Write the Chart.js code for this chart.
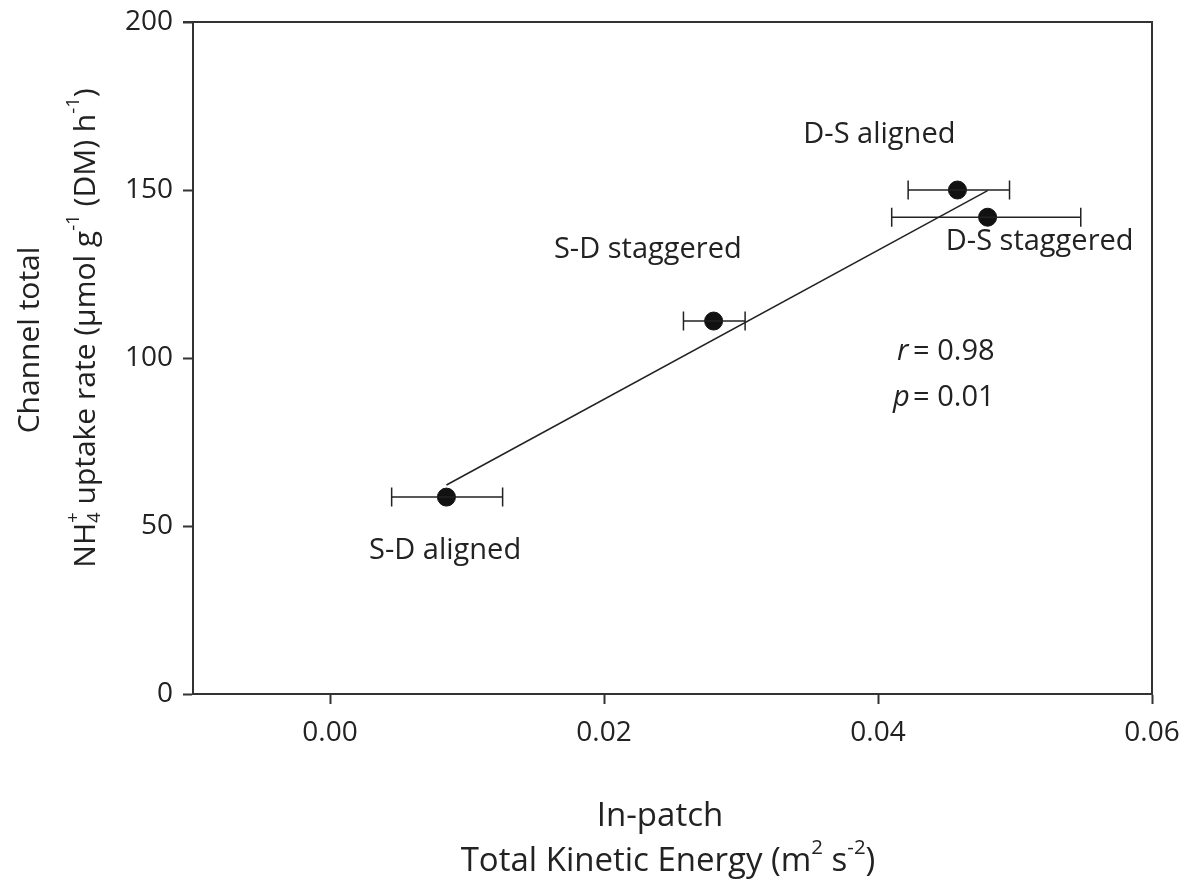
<!DOCTYPE html>
<html>
<head>
<meta charset="utf-8">
<script src="https://cdn.jsdelivr.net/npm/chart.js@4.4.1/dist/chart.umd.min.js"></script>
<style>
  html, body { margin: 0; padding: 0; background: #fff; }
  #wrap { width: 1185px; height: 886px; }
</style>
</head>
<body>
<div id="wrap"><canvas id="chart"></canvas></div>
<script>
// data
const treatments = ["S-D aligned", "S-D staggered", "D-S aligned", "D-S staggered"];
const energy = [0.0085, 0.0280, 0.0458, 0.0480];
const energy_low = [0.0045, 0.0258, 0.0422, 0.0410];
const energy_high = [0.0126, 0.0303, 0.0496, 0.0548];
const uptake = [58.6, 111.0, 150.0, 141.9];
const fit_x = [0.0085, 0.0480];
const fit_y = [62.2, 149.8];
const x_ticks = [0.00, 0.02, 0.04, 0.06];
const y_ticks = [0, 50, 100, 150, 200];

// where the point labels sit, in data units
const label_x = [0.0084, 0.0232, 0.0401, 0.0518];
const label_y = [42.6, 132.1, 166.4, 134.5];

const font_name = "'Open Sans', 'Noto Sans', sans-serif";
const ink = "#222";

function rich_width(ctx, parts, size) {
  let w = 0;
  parts.forEach(function(p) {
    if (p.sup !== undefined || p.sub !== undefined) {
      ctx.font = (size * 0.62) + "px " + font_name;
      w += Math.max(ctx.measureText(p.sup || "").width, ctx.measureText(p.sub || "").width);
    } else {
      ctx.font = (p.italic ? "italic " : "") + size + "px " + font_name;
      w += ctx.measureText(p.t).width;
    }
  });
  return w;
}

function draw_rich(ctx, parts, size, cx, cy, angle) {
  ctx.save();
  ctx.translate(cx, cy);
  ctx.rotate(angle);
  ctx.fillStyle = ink;
  ctx.textBaseline = "middle";
  ctx.textAlign = "left";
  let x = -rich_width(ctx, parts, size) / 2;
  parts.forEach(function(p) {
    if (p.sup !== undefined || p.sub !== undefined) {
      ctx.font = (size * 0.62) + "px " + font_name;
      let w = 0;
      if (p.sup) {
        ctx.fillText(p.sup, x, -size * 0.42);
        w = ctx.measureText(p.sup).width;
      }
      if (p.sub) {
        ctx.fillText(p.sub, x, size * 0.3);
        w = Math.max(w, ctx.measureText(p.sub).width);
      }
      x += w;
    } else {
      ctx.font = (p.italic ? "italic " : "") + size + "px " + font_name;
      ctx.fillText(p.t, x, 0);
      x += ctx.measureText(p.t).width;
    }
  });
  ctx.restore();
}

const extras = {
  id: "extras",
  afterDatasetsDraw(chart) {
    const ctx = chart.ctx;
    const xs = chart.scales.x;
    const ys = chart.scales.y;
    const area = chart.chartArea;

    // horizontal error bars
    ctx.save();
    ctx.strokeStyle = ink;
    ctx.lineWidth = 1.5;
    for (let i = 0; i < energy.length; i++) {
      const py = ys.getPixelForValue(uptake[i]);
      const x0 = xs.getPixelForValue(energy_low[i]);
      const x1 = xs.getPixelForValue(energy_high[i]);
      ctx.beginPath();
      ctx.moveTo(x0, py); ctx.lineTo(x1, py);
      ctx.moveTo(x0, py - 9.5); ctx.lineTo(x0, py + 9.5);
      ctx.moveTo(x1, py - 9.5); ctx.lineTo(x1, py + 9.5);
      ctx.stroke();
    }
    ctx.restore();

    // box on top and right
    ctx.save();
    ctx.strokeStyle = "#333";
    ctx.lineWidth = 2;
    ctx.beginPath();
    ctx.moveTo(area.left - 10, area.top);
    ctx.lineTo(area.right, area.top);
    ctx.lineTo(area.right, area.bottom);
    ctx.stroke();
    ctx.restore();

    // point labels
    ctx.save();
    ctx.fillStyle = ink;
    ctx.font = "29px " + font_name;
    ctx.textAlign = "center";
    ctx.textBaseline = "middle";
    for (let i = 0; i < treatments.length; i++) {
      ctx.fillText(treatments[i], xs.getPixelForValue(label_x[i]), ys.getPixelForValue(label_y[i]));
    }
    ctx.restore();

    // statistics
    const sx = xs.getPixelForValue(0.0411);
    ctx.save();
    ctx.fillStyle = ink;
    ctx.textAlign = "left";
    ctx.textBaseline = "middle";
    ctx.font = "italic 29px " + font_name;
    ctx.fillText("r", sx + 4, ys.getPixelForValue(101.8));
    ctx.fillText("p", sx, ys.getPixelForValue(88.1));
    ctx.font = "29px " + font_name;
    ctx.fillText("= 0.98", sx + 20, ys.getPixelForValue(101.8));
    ctx.fillText("= 0.01", sx + 20, ys.getPixelForValue(88.1));
    ctx.restore();

    // axis titles
    draw_rich(ctx, [{t: "In-patch"}], 33, 660, 817, 0);
    draw_rich(ctx, [{t: "Total Kinetic Energy (m"}, {sup: "2"}, {t: " s"}, {sup: "-2"}, {t: ")"}], 33, 668, 862, 0);
    draw_rich(ctx, [{t: "Channel total"}], 30, 30, 340, -Math.PI / 2);
    draw_rich(ctx, [{t: "NH"}, {sup: "+", sub: "4"}, {t: " uptake rate (\u00b5mol g"}, {sup: "-1"},
      {t: " (DM) h"}, {sup: "-1"}, {t: ")"}], 30, 86, 328, -Math.PI / 2);
  }
};

const canvas = document.getElementById("chart");
const chart = new Chart(canvas, {
  type: "scatter",
  data: {
    datasets: [
      {
        label: "fit",
        data: fit_x.map(function(x, i) { return {x: x, y: fit_y[i]}; }),
        showLine: true,
        borderColor: ink,
        borderWidth: 1.5,
        pointRadius: 0,
        order: 2,
      },
      {
        label: "treatments",
        data: energy.map(function(x, i) { return {x: x, y: uptake[i]}; }),
        backgroundColor: "#111",
        borderColor: "#111",
        pointRadius: 9,
        order: 1,
      },
    ]
  },
  options: {
    responsive: true,
    maintainAspectRatio: false,
    animation: false,
    layout: { padding: { left: 0, top: 22, right: 33, bottom: 0 } },
    plugins: { legend: { display: false }, tooltip: { enabled: false } },
    scales: {
      x: {
        type: "linear",
        min: -0.01,
        max: 0.06,
        afterBuildTicks: function(scale) {
          scale.ticks = x_ticks.map(function(v) { return {value: v}; });
        },
        afterFit: function(scale) {
          scale.height = 192;
          scale.paddingLeft = 0;
          scale.paddingRight = 0;
        },
        grid: { drawOnChartArea: false, tickLength: 10, tickColor: "#333", tickWidth: 2 },
        border: { color: "#333", width: 2 },
        ticks: {
          color: ink,
          padding: 12,
          font: { family: font_name, size: 28 },
          callback: function(v) { return v.toFixed(2); },
        },
      },
      y: {
        type: "linear",
        min: 0,
        max: 200,
        afterBuildTicks: function(scale) {
          scale.ticks = y_ticks.map(function(v) { return {value: v}; });
        },
        afterFit: function(scale) {
          scale.width = 193;
          scale.paddingTop = 0;
          scale.paddingBottom = 0;
        },
        grid: { drawOnChartArea: false, tickLength: 10, tickColor: "#333", tickWidth: 2 },
        border: { color: "#333", width: 2 },
        ticks: {
          color: ink,
          padding: 10,
          font: { family: font_name, size: 28 },
        },
      },
    },
  },
  plugins: [extras],
});
</script>
</body>
</html>
